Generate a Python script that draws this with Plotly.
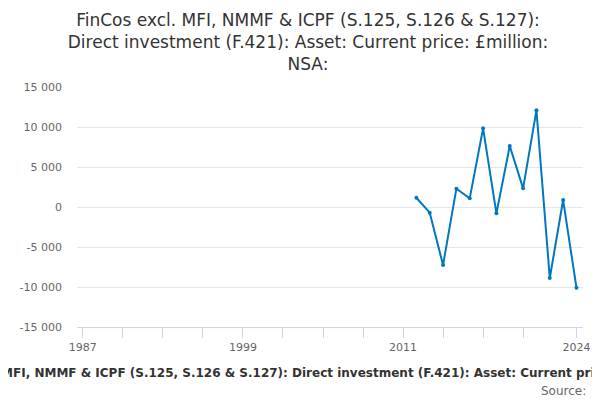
import plotly.graph_objects as go

# values (£million)
years = [2012, 2013, 2014, 2015, 2016, 2017, 2018, 2019, 2020, 2021, 2022, 2023, 2024]
values = [1160, -710, -7250, 2290, 1080, 9830, -790, 7620, 2330, 12080, -8880, 870, -10080]

x_tick_vals = [1987, 1990, 1993, 1996, 1999, 2002, 2005, 2008, 2011, 2014, 2017, 2020, 2024]
x_tick_text = ["1987", "", "", "", "1999", "", "", "", "2011", "", "", "", "2024"]
y_tick_vals = [-15000, -10000, -5000, 0, 5000, 10000, 15000]
y_tick_text = ["-15 000", "-10 000", "-5 000", "0", "5 000", "10 000", "15 000"]

series_name = ("FinCos excl. MFI, NMMF & ICPF (S.125, S.126 & S.127): "
               "Direct investment (F.421): Asset: Current price: £million: NSA:")
title_text = ("FinCos excl. MFI, NMMF & ICPF (S.125, S.126 & S.127):<br>"
              "Direct investment (F.421): Asset: Current price: £million:<br>NSA:")

fig = go.Figure()
fig.add_trace(go.Scatter(
    x=years, y=values, mode="lines+markers", name=series_name,
    line=dict(color="#0077c0", width=2),
    marker=dict(color="#0077c0", size=4),
))

# page body has an 8px margin, so everything is laid out 8px up/left
fig.update_layout(
    width=600, height=400,
    font=dict(family="DejaVu Sans", color="#666666"),
    plot_bgcolor="white", paper_bgcolor="white",
    showlegend=False,
    margin=dict(l=60, r=25, t=79, b=81),
    title=dict(text=title_text, x=0.5, xanchor="center", y=0.955, yanchor="top",
               font=dict(size=17, color="#333333")),
    xaxis=dict(
        range=[1986.56, 2024.49],
        tickmode="array", tickvals=x_tick_vals, ticktext=x_tick_text,
        ticks="outside", ticklen=10, tickcolor="#ccd6eb", tickwidth=1,
        showline=True, linecolor="#ccd6eb", linewidth=1,
        showgrid=False, zeroline=False,
        tickfont=dict(size=11, color="#666666"),
    ),
    yaxis=dict(
        range=[-15000, 15000],
        tickmode="array", tickvals=y_tick_vals, ticktext=y_tick_text,
        showgrid=True, gridcolor="#e6e6e6", gridwidth=1,
        zeroline=False, showline=False,
        ticklabelstandoff=14,
        tickfont=dict(size=11, color="#666666"),
    ),
    annotations=[
        dict(text="<b>" + series_name + "</b>", xref="paper", yref="paper",
             x=0.472, y=-0.19, xanchor="center", yanchor="middle", showarrow=False,
             font=dict(size=12, color="#333333")),
        dict(text="Source:", xref="paper", yref="paper",
             x=1.01, y=-0.265, xanchor="right", yanchor="middle", showarrow=False,
             font=dict(size=12, color="#666666")),
    ],
)

fig.write_html("out.html")
